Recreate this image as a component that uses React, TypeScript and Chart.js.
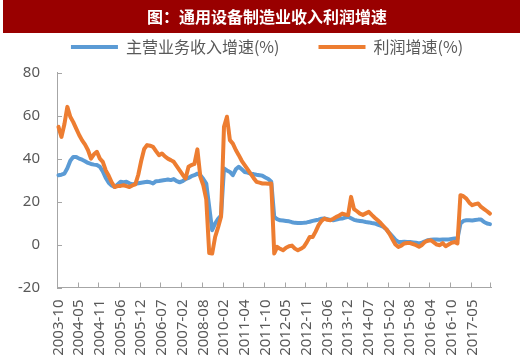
import { useEffect, useRef } from "react";
import { Chart, registerables } from "chart.js";

Chart.register(...registerables);

// ---------- data ----------
const chartTitle = "图：通用设备制造业收入利润增速";
const seriesNames = ["主营业务收入增速(%)", "利润增速(%)"];

// x-axis labels, one every 7 data points
const tickLabels = [
  "2003-10", "2004-05", "2004-11", "2005-06", "2005-12", "2006-07", "2007-02",
  "2008-08", "2010-02", "2011-04", "2011-10", "2012-05", "2012-11", "2013-06",
  "2013-12", "2014-07", "2015-02", "2015-08", "2016-04", "2016-10", "2017-05",
];
const LABEL_EVERY = 7;

const yMin = -20;
const yMax = 80;
const yStep = 20;

// 主营业务收入增速(%)
const revenue = [
  32.3, 32.5, 33, 35.5, 39, 40.8, 40.8, 40, 39.5, 38.8,
  38, 37.5, 37.2, 37, 36.2, 34, 31, 28.8, 27.5, 26.8,
  28, 29.2, 29, 29.2, 28.5, 28, 28.3, 28.5, 28.8, 29,
  29.2, 29, 28.4, 29.5, 29.6, 29.8, 30, 30.3, 30, 30.5,
  29.5, 29, 29.5, 30.5, 31, 31.8, 32.3, 33, 32.3, 30.5,
  28.4, 17.5, 6.7, 9.8, 12, 13.5, 35.4, 34.5, 33.8, 32.3,
  35, 36.2, 35, 33.8, 33.5, 33, 32.8, 32.5, 32.3, 32,
  31.2, 30.5, 29.2, 12.9, 11.8, 11.3, 11.2, 11, 10.8, 10.4,
  10.1, 10, 10, 10.1, 10.3, 10.6, 11, 11.3, 11.6, 12,
  12.1, 11.8, 11.5, 11.3, 11.6, 12, 12.1, 12.5, 12.9, 12.2,
  11.5, 11.2, 11, 10.8, 10.5, 10.3, 10, 9.8, 9.3, 8.8,
  8.2, 7, 5.3, 3.8, 2.2, 1.2, 1.2, 1.3, 1.2, 1.2,
  1, 0.8, 0.5, 0.9, 1.5, 2, 2.2, 2.3, 2.3, 2.2,
  2.3, 2.3, 2.4, 2.6, 2.8, 2.8, 9.8, 11, 11.3, 11.3,
  11.2, 11.4, 11.6, 11.6, 10.5, 9.8, 9.5,
];

// 利润增速(%)
const profit = [
  54.8, 50.1, 56, 64.1, 59.5, 57, 54, 51, 48.5, 46.5,
  43.9, 40, 42, 43.2, 40, 38.5, 34.5, 32, 29, 26.8,
  27.2, 27.3, 27.6, 27.2, 26.8, 27.5, 28, 32.5, 39, 44.5,
  46.3, 46, 45.5, 43.5, 41.6, 42.4, 41, 40, 39.3, 38.5,
  36.5, 34.5, 32.5, 30.8, 36.2, 37, 37.5, 44.3, 31.5, 27.6,
  21, -4, -4.2, 3.5, 8, 12.9, 54.8, 59.5, 48.6, 47,
  44, 41.6, 39, 37, 35, 33, 31, 29.2, 28.8, 28.4,
  28.4, 28.3, 28.4, -4.2, -1.1, -2, -2.7, -1.5, -0.8, -0.5,
  -1.9, -2.7, -2, -1.1, 1, 3.5, 3.5, 6, 9, 11,
  12.1, 11.5, 11.3, 12, 12.9, 13.5, 14.4, 14, 13.7, 22.2,
  16.5, 15.5, 14.4, 13.8, 14.5, 15.2, 13.8, 12.5, 11.3, 10,
  8.5, 7, 5, 2.5, 0, -1.1, -0.5, 0.5, 0.7, 0.7,
  0.2, -0.3, -1, -0.2, 1.2, 1.8, 2, 1, 0, -0.3,
  0.7, -0.8, 0, 0.8, 1.2, 0.5, 23, 22.5, 21.4, 19.5,
  18.3, 18.8, 19.1, 17.5, 16.5, 15.5, 14.4,
];

const categories = revenue.map((_, i) =>
  i % LABEL_EVERY === 0 ? tickLabels[i / LABEL_EVERY] ?? "" : ""
);

// ---------- styles ----------
const BLUE = "#5B9BD5";
const ORANGE = "#ED7D31";
const AXIS = "#A6A6A6";
const TEXT = "#595959";
const TITLE_BG = "#990000";
const TITLE_BAR_HEIGHT = 33;
const LATIN = "'Noto Sans', 'Noto Sans CJK SC', sans-serif";
const CJK = "'Noto Sans CJK SC', 'Noto Sans', sans-serif";

// red banner behind the title text
const titleBarPlugin = {
  id: "titleBar",
  beforeDraw(chart: any) {
    const { ctx } = chart;
    ctx.save();
    ctx.fillStyle = TITLE_BG;
    ctx.fillRect(3, 0, chart.width - 3, TITLE_BAR_HEIGHT);
    ctx.restore();
  },
};

// extra space between the legend and the plot area
const legendSpacerPlugin = {
  id: "legendSpacer",
  beforeInit(chart: any) {
    const legend = chart.legend;
    if (!legend) return;
    const origFit = legend.fit;
    legend.fit = function () {
      origFit.call(this);
      this.height += 7.7;
    };
  },
};

// Excel-style inside tick marks on both axes
const insideTicksPlugin = {
  id: "insideTicks",
  afterDatasetsDraw(chart: any) {
    const { ctx, chartArea, scales } = chart;
    const x = scales.x;
    const y = scales.y;
    ctx.save();
    ctx.strokeStyle = AXIS;
    ctx.lineWidth = 1;
    ctx.beginPath();
    y.ticks.forEach((_: any, i: number) => {
      const py = Math.round(y.getPixelForTick(i)) + 0.5;
      ctx.moveTo(chartArea.left, py);
      ctx.lineTo(chartArea.left + 5, py);
    });
    const half = (x.getPixelForValue(1) - x.getPixelForValue(0)) / 2;
    for (let i = LABEL_EVERY; i < categories.length; i += LABEL_EVERY) {
      const px = Math.round(x.getPixelForValue(i) - half) + 0.5;
      ctx.moveTo(px, chartArea.bottom);
      ctx.lineTo(px, chartArea.bottom - 5);
    }
    const endX = Math.round(chartArea.right) - 0.5;
    ctx.moveTo(endX, chartArea.bottom);
    ctx.lineTo(endX, chartArea.bottom - 5);
    ctx.stroke();
    ctx.restore();
  },
};

export default function App() {
  const canvasRef = useRef<HTMLCanvasElement | null>(null);

  useEffect(() => {
    const canvas = canvasRef.current;
    if (!canvas) return;
    const chart = new Chart(canvas, {
      type: "line",
      data: {
        labels: categories,
        datasets: [
          {
            label: seriesNames[0],
            data: revenue,
            borderColor: BLUE,
            backgroundColor: BLUE,
            borderWidth: 4,
            borderCapStyle: "round",
            borderJoinStyle: "round",
            pointRadius: 0,
            pointStyle: "line",
            tension: 0,
            order: 2,
          },
          {
            label: seriesNames[1],
            data: profit,
            borderColor: ORANGE,
            backgroundColor: ORANGE,
            borderWidth: 4,
            borderCapStyle: "round",
            borderJoinStyle: "round",
            pointRadius: 0,
            pointStyle: "line",
            tension: 0,
            order: 1,
          },
        ],
      },
      options: {
        responsive: false,
        animation: false,
        devicePixelRatio: 1,
        layout: { padding: { left: 18, right: 4, top: 0, bottom: 0 } },
        plugins: {
          title: {
            display: true,
            text: chartTitle,
            color: "#FFFFFF",
            font: { family: CJK, size: 16, weight: "bold" },
            // the title sits inside the banner and takes no layout height
            padding: { top: 7, bottom: -26.2 },
          },
          legend: {
            display: true,
            position: "top",
            labels: {
              usePointStyle: true,
              pointStyle: "line",
              pointStyleWidth: 47,
              padding: 39,
              color: TEXT,
              font: { family: CJK, size: 16 },
              sort: (a: any, b: any) => a.datasetIndex - b.datasetIndex,
            },
          },
          tooltip: { enabled: false },
        },
        scales: {
          x: {
            type: "category",
            offset: true,
            grid: { display: true, drawOnChartArea: false, drawTicks: false },
            border: { display: true, color: AXIS, width: 1 },
            ticks: {
              autoSkip: false,
              minRotation: 90,
              maxRotation: 90,
              padding: 12,
              color: TEXT,
              font: { family: LATIN, size: 15 },
            },
            afterFit: (scale: any) => {
              scale.height = 76.5;
            },
          },
          y: {
            min: yMin,
            max: yMax,
            grid: { display: true, drawOnChartArea: false, drawTicks: false },
            border: { display: true, color: AXIS, width: 1 },
            ticks: {
              stepSize: yStep,
              padding: 17,
              color: TEXT,
              font: { family: LATIN, size: 15 },
            },
            afterFit: (scale: any) => {
              scale.width = 39;
            },
          },
        },
      },
      plugins: [titleBarPlugin, legendSpacerPlugin, insideTicksPlugin],
    });
    return () => chart.destroy();
  }, []);

  return (
    <div style={{ position: "absolute", left: 0, top: 0, width: 520, height: 364, background: "#fff" }}>
      <canvas ref={canvasRef} width={520} height={364} style={{ width: 520, height: 364, display: "block" }} />
    </div>
  );
}
